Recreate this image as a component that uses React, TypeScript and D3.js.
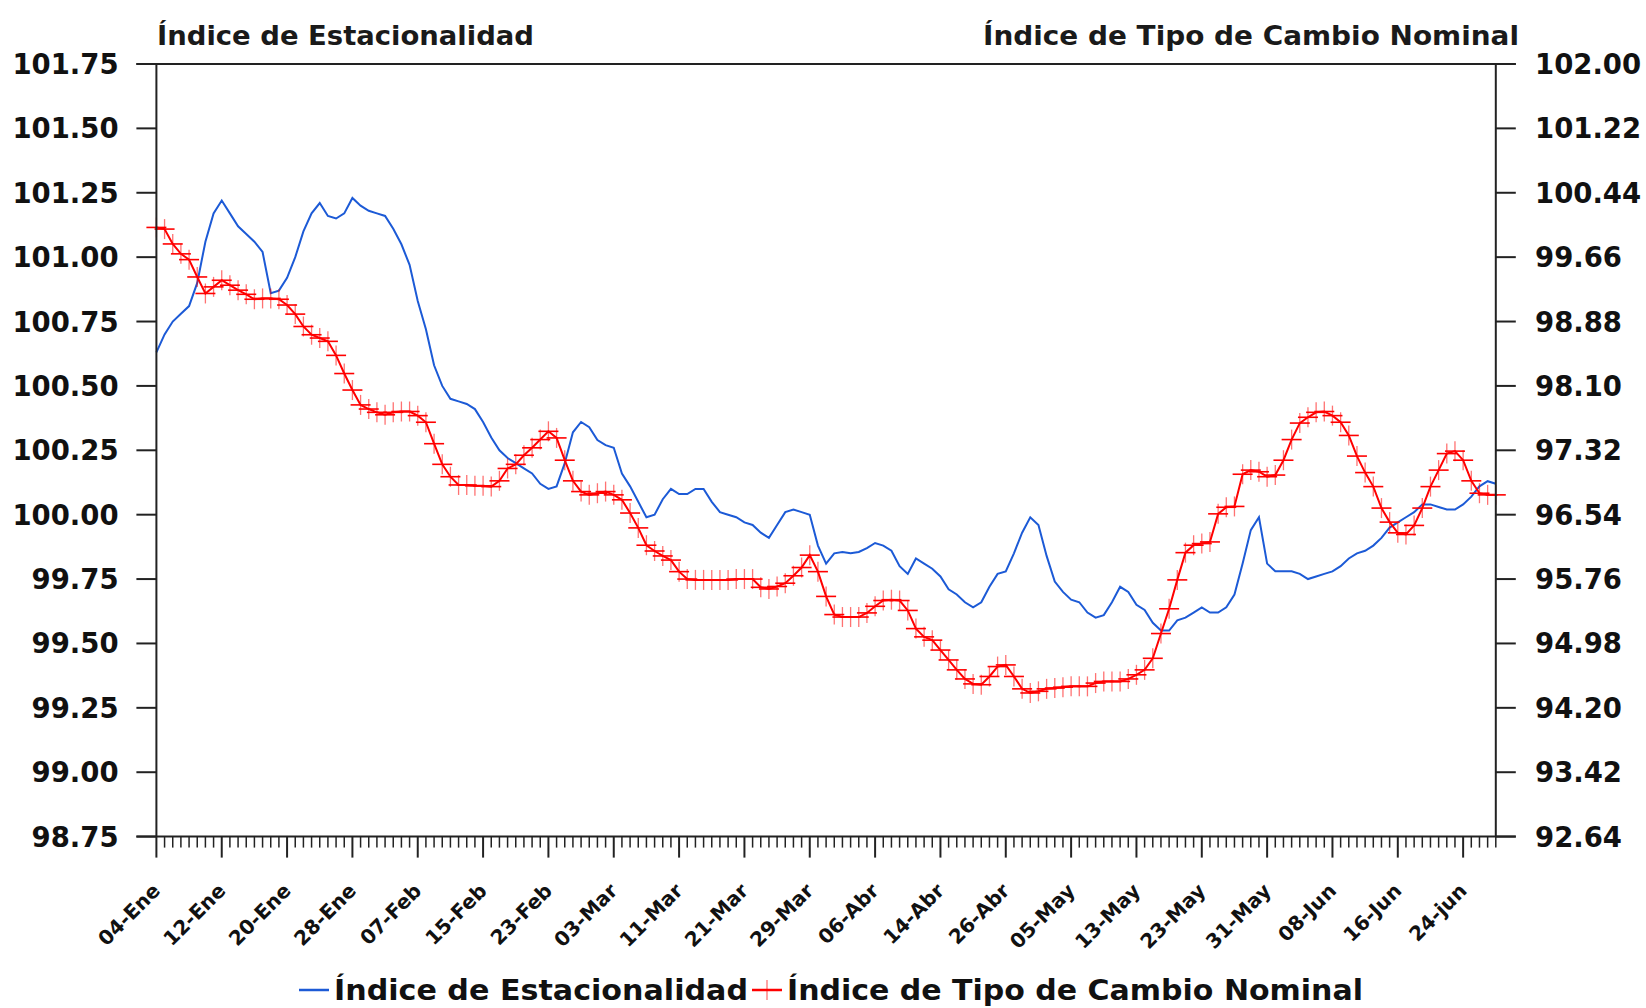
import React from "react";
import * as d3 from "d3";

const tickLabels = ["04-Ene","12-Ene","20-Ene","28-Ene","07-Feb","15-Feb","23-Feb","03-Mar","11-Mar","21-Mar","29-Mar","06-Abr","14-Abr","26-Abr","05-May","13-May","23-May","31-May","08-Jun","16-Jun","24-jun"];

const estacionalidad = [
100.63,100.70,100.75,100.78,100.81,100.90,101.06,101.17,101.22,101.17,
101.12,101.09,101.06,101.02,100.86,100.87,100.92,101.00,101.10,101.17,
101.21,101.16,101.15,101.17,101.23,101.20,101.18,101.17,101.16,101.11,
101.05,100.97,100.83,100.72,100.58,100.50,100.45,100.44,100.43,100.41,
100.36,100.30,100.25,100.22,100.20,100.18,100.16,100.12,100.10,100.11,
100.20,100.32,100.36,100.34,100.29,100.27,100.26,100.16,100.11,100.05,
99.99,100.00,100.06,100.10,100.08,100.08,100.10,100.10,100.05,100.01,
100.00,99.99,99.97,99.96,99.93,99.91,99.96,100.01,100.02,100.01,
100.00,99.88,99.81,99.85,99.855,99.85,99.855,99.87,99.89,99.88,
99.86,99.80,99.77,99.83,99.81,99.79,99.76,99.71,99.69,99.66,
99.64,99.66,99.72,99.77,99.78,99.85,99.93,99.99,99.96,99.84,
99.74,99.70,99.67,99.66,99.62,99.60,99.61,99.66,99.72,99.70,
99.65,99.63,99.58,99.55,99.55,99.59,99.60,99.62,99.64,99.62,
99.62,99.64,99.69,99.81,99.94,99.99,99.81,99.78,99.78,99.78,
99.77,99.75,99.76,99.77,99.78,99.80,99.83,99.85,99.86,99.88,
99.91,99.95,99.97,99.99,100.01,100.04,100.04,100.03,100.02,100.02,
100.04,100.07,100.11,100.13,100.12
];

const tipoCambio = [
100.02,100.00,99.82,99.70,99.63,99.42,99.22,99.30,99.38,99.32,
99.26,99.21,99.15,99.16,99.16,99.15,99.08,98.97,98.82,98.72,
98.68,98.64,98.47,98.25,98.05,97.87,97.82,97.78,97.75,97.78,
97.79,97.79,97.74,97.66,97.40,97.15,97.00,96.90,96.90,96.89,
96.89,96.88,96.95,97.10,97.15,97.26,97.35,97.45,97.55,97.47,
97.20,96.95,96.82,96.78,96.80,96.82,96.78,96.72,96.56,96.38,
96.17,96.10,96.04,95.99,95.85,95.76,95.75,95.75,95.75,95.75,
95.75,95.76,95.76,95.76,95.66,95.64,95.67,95.71,95.80,95.90,
96.05,95.85,95.55,95.33,95.30,95.30,95.30,95.35,95.43,95.50,
95.51,95.50,95.38,95.16,95.06,95.02,94.90,94.78,94.66,94.55,
94.49,94.48,94.58,94.70,94.72,94.58,94.43,94.38,94.40,94.43,
94.44,94.45,94.46,94.46,94.46,94.50,94.52,94.52,94.52,94.55,
94.60,94.66,94.80,95.10,95.40,95.75,96.08,96.17,96.19,96.21,
96.55,96.63,96.64,97.03,97.08,97.06,97.00,97.02,97.20,97.45,
97.65,97.72,97.78,97.79,97.74,97.66,97.50,97.25,97.05,96.88,
96.62,96.45,96.32,96.30,96.41,96.62,96.88,97.08,97.28,97.31,
97.20,96.95,96.80,96.78,96.78
];

const leftTicks = [98.75,99.0,99.25,99.5,99.75,100.0,100.25,100.5,100.75,101.0,101.25,101.5,101.75];
const rightTicks = [92.64,93.42,94.2,94.98,95.76,96.54,97.32,98.1,98.88,99.66,100.44,101.22,102.0];
const labelStep = 8;

const W = 1646, H = 1008;
const L = 156.4, R = 1495.8, T = 64, B = 836.6;
const FONT = "'DejaVu Sans', Verdana, sans-serif";
const AX = "#222";
const BLUE = "#1c5ad6";
const RED = "#ff0000";

export default function App() {
  React.useEffect(() => {
    document.body.style.margin = "0";
    document.body.style.overflow = "hidden";
  }, []);
  const n = estacionalidad.length;
  const x = d3.scaleLinear().domain([0, n - 1]).range([L, R]);
  const yL = d3.scaleLinear().domain([98.75, 101.75]).range([B, T]);
  const yR = d3.scaleLinear().domain([92.64, 102.0]).range([B, T]);
  const blueLine = d3.line<number>().x((_, i) => x(i)).y((d) => yL(d))(estacionalidad) || "";
  const redLine = d3.line<number>().x((_, i) => x(i)).y((d) => yR(d))(tipoCambio) || "";
  const idx = d3.range(n);
  const cross = (cx: number, cy: number, k: string | number) => (
    <g key={k}>
      <line x1={cx - 10} x2={cx + 10} y1={cy} y2={cy} stroke={RED} strokeWidth={1.6} />
      <line x1={cx} x2={cx} y1={cy - 10} y2={cy + 10} stroke={RED} strokeWidth={1.3} opacity={0.55} />
    </g>
  );
  return (
    <svg width={W} height={H} style={{ position: "absolute", left: 0, top: 0, background: "#fff" }} fontFamily={FONT}>
      <rect x={0} y={0} width={W} height={H} fill="#fff" />
      <text x={157} y={45} fontSize={27} fontWeight="bold" fill="#1a1a1a" textLength={377} lengthAdjust="spacingAndGlyphs">Índice de Estacionalidad</text>
      <text x={1519} y={45} fontSize={27} fontWeight="bold" fill="#1a1a1a" textAnchor="end" textLength={536} lengthAdjust="spacingAndGlyphs">Índice de Tipo de Cambio Nominal</text>
      <path d={blueLine} fill="none" stroke={BLUE} strokeWidth={2} />
      <path d={redLine} fill="none" stroke={RED} strokeWidth={2} />
      {tipoCambio.map((v, i) => cross(x(i), yR(v), i))}
      <line x1={L} x2={L} y1={T} y2={B} stroke={AX} strokeWidth={2} />
      <line x1={R} x2={R} y1={T} y2={B} stroke={AX} strokeWidth={2} />
      <line x1={L - 20} x2={R + 20} y1={T} y2={T} stroke={AX} strokeWidth={2} />
      <line x1={L - 20} x2={R + 20} y1={B} y2={B} stroke={AX} strokeWidth={2} />
      {leftTicks.map((t) => (
        <g key={"l" + t}>
          <line x1={L - 20} x2={L} y1={yL(t)} y2={yL(t)} stroke={AX} strokeWidth={2} />
          <text x={118.6} y={yL(t) + 10} fontSize={27.5} fontWeight="bold" textAnchor="end" fill="#111">{t.toFixed(2)}</text>
        </g>
      ))}
      {rightTicks.map((t) => (
        <g key={"r" + t}>
          <line x1={R} x2={R + 20} y1={yR(t)} y2={yR(t)} stroke={AX} strokeWidth={2} />
          <text x={1535} y={yR(t) + 10} fontSize={27.5} fontWeight="bold" fill="#111">{t.toFixed(2)}</text>
        </g>
      ))}
      {idx.map((i) => {
        const major = i % labelStep === 0;
        return <line key={"x" + i} x1={x(i)} x2={x(i)} y1={B} y2={B + (major ? 21 : 11)} stroke={AX} strokeWidth={major ? 2 : 1.5} />;
      })}
      {tickLabels.map((lab, k) => {
        const tx = x(k * labelStep) + 5;
        const ty = 892;
        return (
          <text key={"xl" + k} x={tx} y={ty} fontSize={20} fontWeight="bold" textAnchor="end" fill="#111" transform={`rotate(-45 ${tx} ${ty})`}>{lab}</text>
        );
      })}
      <line x1={299} x2={329} y1={990} y2={990} stroke={BLUE} strokeWidth={2.5} />
      <text x={334} y={1000} fontSize={29} fontWeight="bold" fill="#111" textLength={414} lengthAdjust="spacingAndGlyphs">Índice de Estacionalidad</text>
      <line x1={752} x2={782} y1={990} y2={990} stroke={RED} strokeWidth={2.5} />
      {cross(767, 990, "leg")}
      <text x={787} y={1000} fontSize={29} fontWeight="bold" fill="#111" textLength={576} lengthAdjust="spacingAndGlyphs">Índice de Tipo de Cambio Nominal</text>
    </svg>
  );
}
